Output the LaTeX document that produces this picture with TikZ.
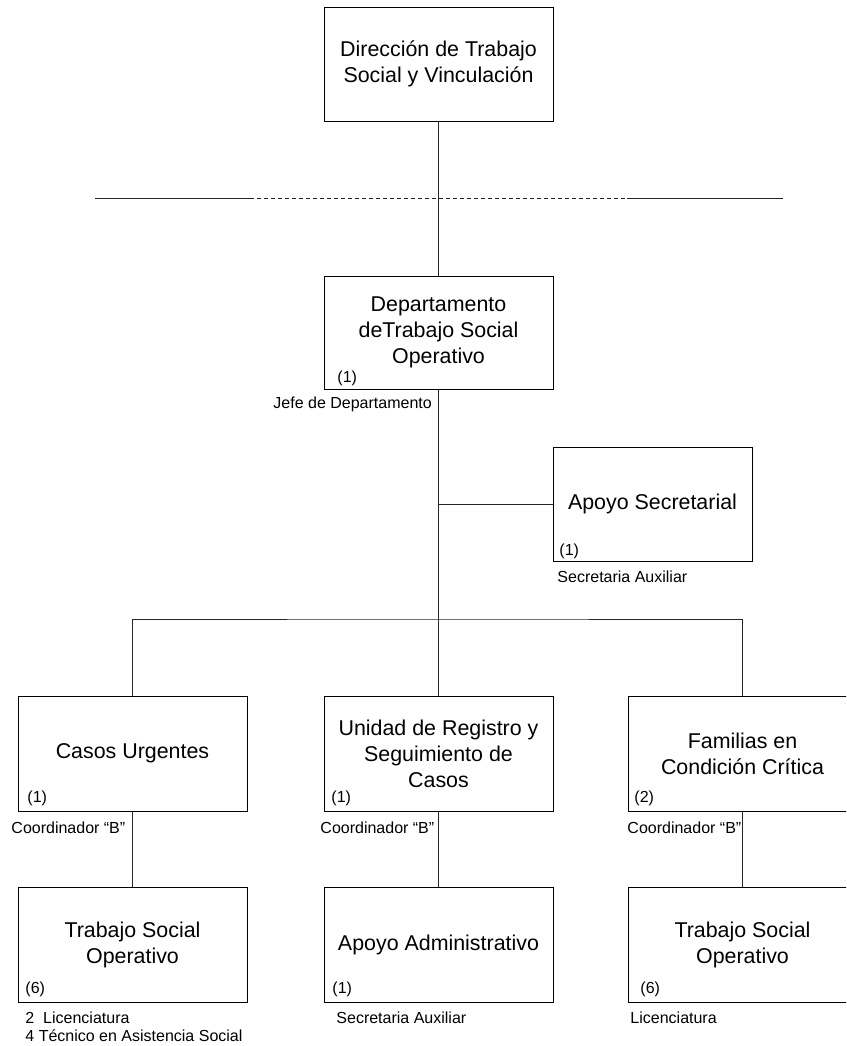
\documentclass[tikz,border=0pt]{standalone}
\usepackage{fontspec}
\setmainfont{Liberation Sans}
\begin{document}
\begin{tikzpicture}[x=1pt,y=-1pt,
  line width=0.9pt,
  box/.style={draw=black, fill=white, inner sep=0pt, minimum width=229pt, minimum height=115pt,
    align=center, font=\fontsize{21.4}{26}\selectfont},
  small/.style={inner sep=0pt, font=\fontsize{16}{19}\selectfont, anchor=base west},
  conn/.style={draw=black!85}
]
\clip (0,0) rectangle (846,1046);
\fill[white] (0,0) rectangle (846,1046);

% boxes
\node[box, minimum height=114pt] (dir) at (438.5,64) {Dirección de Trabajo\\Social y Vinculación};
\node[box, minimum height=113pt] (dept) at (438.5,332.5) {Departamento\\deTrabajo Social\\Operativo};
\node[box, minimum width=199pt, minimum height=114pt] (sec) at (652.5,504) {Apoyo Secretarial};
\node[box] (casos) at (132.5,753.5) {Casos Urgentes};
\node[box] (unidad) at (438.5,753.5) {\raisebox{8pt}{\parbox{229pt}{\centering Unidad de Registro y\\Seguimiento de\\Casos}}};
\node[box] (fam) at (742.5,753.5) {Familias en\\Condición Crítica};
\node[box] (tso1) at (132.5,944.5) {Trabajo Social\\Operativo};
\node[box] (admin) at (438.5,944.5) {Apoyo Administrativo};
\node[box] (tso2) at (742.5,944.5) {Trabajo Social\\Operativo};

% horizontal line with dashed section
\coordinate (h1) at (95,198);
\coordinate (h2) at (250,198);
\coordinate (h3) at (627,198);
\coordinate (h4) at (783,198);
\draw[conn] (h1) -- (h2);
\draw[conn, dash pattern=on 4pt off 3pt] (h2) -- (h3);
\draw[conn] (h3) -- (h4);

% connectors
\coordinate (bus) at (438.5,619);
\draw[conn] (dir.south) -- (dept.north);
\draw[conn] (dept.south) -- (bus);
\draw[conn] (dept.south |- sec.west) -- (sec.west);
\draw[conn] (casos.north) |- (bus) -| (fam.north);
\draw[conn] (bus) -- (unidad.north);
\draw[conn] (casos.south) -- (tso1.north);
\draw[conn] (unidad.south) -- (admin.north);
\draw[conn] (fam.south) -- (tso2.north);

% count labels
\node[small] (n1) at (337,382) {(1)};
\node[small] (n2) at (559,555) {(1)};
\node[small] (n3) at (27,802) {(1)};
\node[small] (n4) at (331,802) {(1)};
\node[small] (n5) at (634,802) {(2)};
\node[small] (n6) at (25,993) {(6)};
\node[small] (n7) at (332,993) {(1)};
\node[small] (n8) at (640,993) {(6)};

% position labels
\node[small] (p1) at (273,408) {Jefe de Departamento};
\node[small] (p2) at (557,582) {Secretaria Auxiliar};
\node[small] (p3) at (11,833) {Coordinador “B”};
\node[small] (p4) at (320,833) {Coordinador “B”};
\node[small] (p5) at (627,833) {Coordinador “B”};
\node[small] (p6) at (25,1023) {2\ \ Licenciatura};
\node[small] (p7) at (25,1041) {4 Técnico en Asistencia Social};
\node[small] (p8) at (336,1023) {Secretaria Auxiliar};
\node[small] (p9) at (630,1023) {Licenciatura};
\end{tikzpicture}
\end{document}
